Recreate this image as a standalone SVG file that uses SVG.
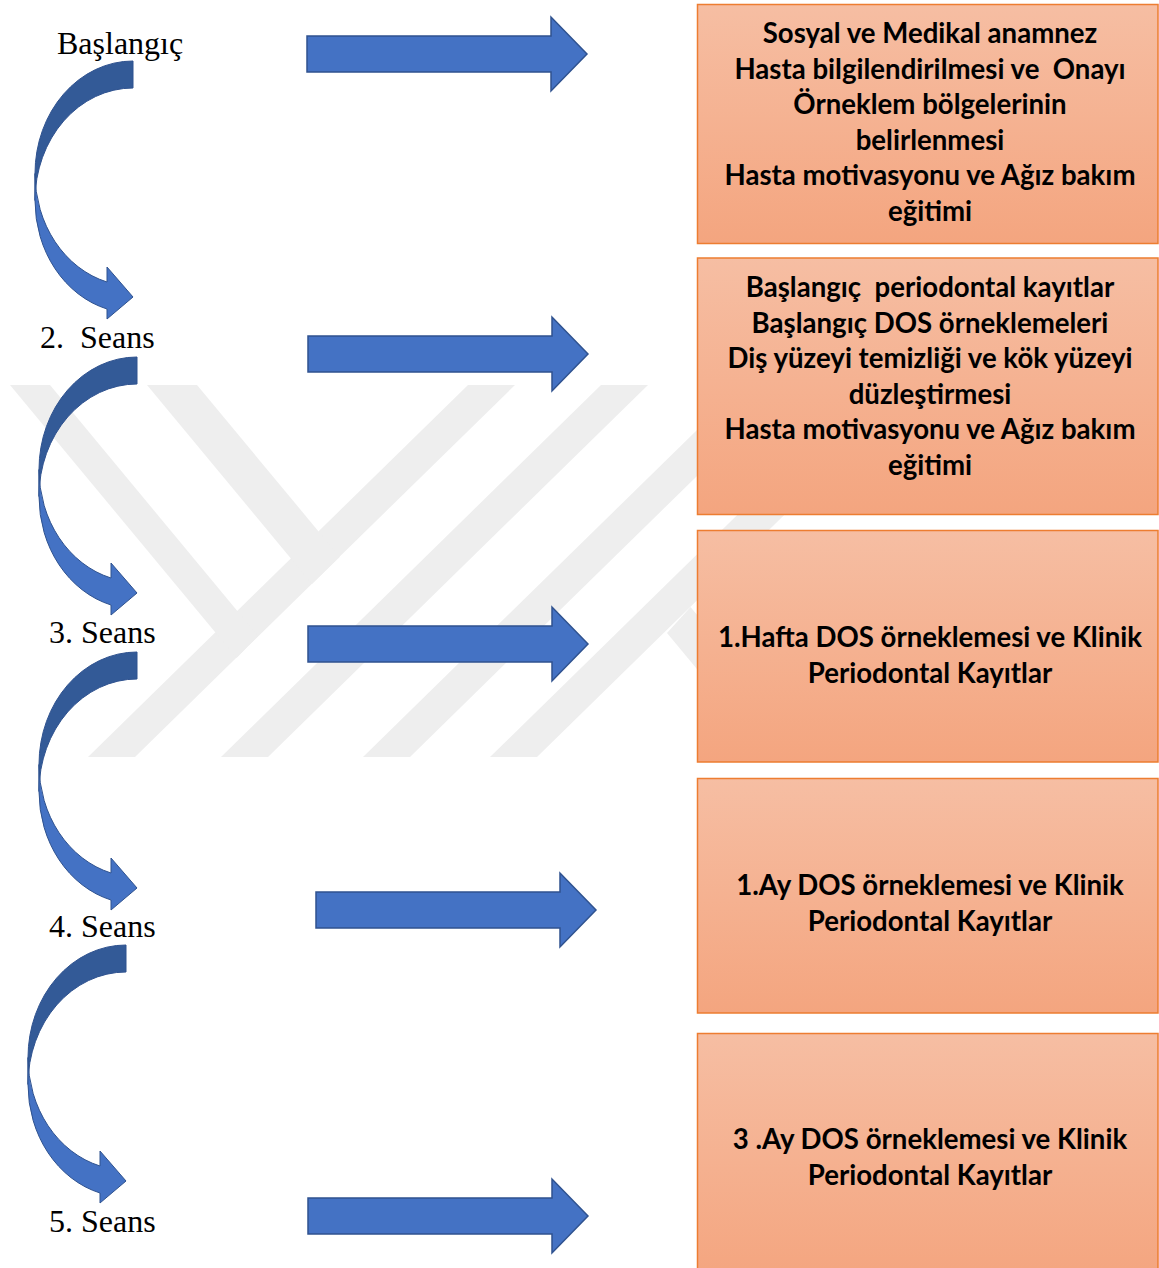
<svg xmlns="http://www.w3.org/2000/svg" xmlns:xlink="http://www.w3.org/1999/xlink" width="1159" height="1268" viewBox="0 0 1159 1268">
<style>
.wm{fill:#eeeeee}
.lbl{font-family:"Liberation Serif","Times New Roman",serif;font-size:32px;fill:#000}
.box{fill:url(#og);stroke:#ed7d31;stroke-width:1.5}
.bt{font-family:Lato,"Liberation Sans",sans-serif;font-weight:bold;font-size:27.6px;fill:#000;text-anchor:middle}
.blk{fill:#4472c4;stroke:#2f528f;stroke-width:1.5;stroke-linejoin:miter}
.cback{fill:#335a97;stroke:#2f528f;stroke-width:1}
.cfront{fill:#4472c4;stroke:#2f528f;stroke-width:1}
</style>
<defs>
<linearGradient id="og" x1="0" y1="0" x2="0" y2="1">
<stop offset="0" stop-color="#f6bea3"/>
<stop offset="1" stop-color="#f4a57f"/>
</linearGradient>
<path id="rarrow" class="blk" d="M307,36 H551 V17 L587,54 L551,91 V72 H307 Z"/>
<g id="carrow">
<path class="cback" d="M133,61 A98,112.5 0 0 0 35,173.5 L35,200.5 A98,112.5 0 0 1 133,88 Z"/>
<path class="cfront" d="M35,173.5 A98,112.5 0 0 0 107,282 L107,267 L133,297 L107,319 L107,309 A98,112.5 0 0 1 35,200.5 Z"/>
</g>
</defs>
<rect width="1159" height="1268" fill="#fff"/>
<g id="watermark">
<polygon class="wm" points="468,385 515,385 135,757 88,757"/>
<polygon class="wm" points="601,385 648,385 268,757 221,757"/>
<polygon class="wm" points="743,385 790,385 410,757 363,757"/>
<polygon class="wm" points="870,385 917,385 537,757 490,757"/>
<polygon class="wm" points="10,385 50,385 258,636 236.6,658"/>
<polygon class="wm" points="147,385 197,385 339.7,556.9 312,583.9"/>
<polygon class="wm" points="667,633 690.5,607 815,757 770,757"/>
</g>
<g id="connectors">
<use xlink:href="#carrow"/>
<use xlink:href="#carrow" transform="translate(4,296)"/>
<use xlink:href="#carrow" transform="translate(4,591)"/>
<use xlink:href="#carrow" transform="translate(-7,884)"/>
<use xlink:href="#rarrow"/>
<use xlink:href="#rarrow" transform="translate(1,300)"/>
<use xlink:href="#rarrow" transform="translate(1,590)"/>
<use xlink:href="#rarrow" transform="translate(9,856)"/>
<use xlink:href="#rarrow" transform="translate(1,1162)"/>
</g>
<g id="step-baslangic"><text class="lbl" x="57" y="54">Başlangıç</text></g>
<g id="step-2"><text class="lbl" x="40" y="348" xml:space="preserve">2.  Seans</text></g>
<g id="step-3"><text class="lbl" x="49" y="643">3. Seans</text></g>
<g id="step-4"><text class="lbl" x="49" y="937">4. Seans</text></g>
<g id="step-5"><text class="lbl" x="49" y="1232">5. Seans</text></g>
<g id="box-1">
<rect class="box" x="697.5" y="4.5" width="460.5" height="239"/>
<text class="bt" x="930" y="43">Sosyal ve Medikal anamnez</text>
<text class="bt" x="930" y="78.5" xml:space="preserve">Hasta bilgilendirilmesi ve  Onayı</text>
<text class="bt" x="930" y="114">Örneklem bölgelerinin</text>
<text class="bt" x="930" y="149.5">belirlenmesi</text>
<text class="bt" x="930" y="185">Hasta motivasyonu ve Ağız bakım</text>
<text class="bt" x="930" y="220.5">eğitimi</text>
</g>
<g id="box-2">
<rect class="box" x="697.5" y="258" width="460.5" height="256.5"/>
<text class="bt" x="930" y="297" xml:space="preserve">Başlangıç  periodontal kayıtlar</text>
<text class="bt" x="930" y="332.5">Başlangıç DOS örneklemeleri</text>
<text class="bt" x="930" y="368">Diş yüzeyi temizliği ve kök yüzeyi</text>
<text class="bt" x="930" y="403.5">düzleştirmesi</text>
<text class="bt" x="930" y="439">Hasta motivasyonu ve Ağız bakım</text>
<text class="bt" x="930" y="474.5">eğitimi</text>
</g>
<g id="box-3">
<rect class="box" x="697.5" y="530.5" width="460.5" height="231.5"/>
<text class="bt" x="930" y="647">1.Hafta DOS örneklemesi ve Klinik</text>
<text class="bt" x="930" y="683">Periodontal Kayıtlar</text>
</g>
<g id="box-4">
<rect class="box" x="697.5" y="778.5" width="460.5" height="234.5"/>
<text class="bt" x="930" y="895">1.Ay DOS örneklemesi ve Klinik</text>
<text class="bt" x="930" y="931">Periodontal Kayıtlar</text>
</g>
<g id="box-5">
<rect class="box" x="697.5" y="1033.5" width="460.5" height="245"/>
<text class="bt" x="930" y="1149">3 .Ay DOS örneklemesi ve Klinik</text>
<text class="bt" x="930" y="1185">Periodontal Kayıtlar</text>
</g>
</svg>
